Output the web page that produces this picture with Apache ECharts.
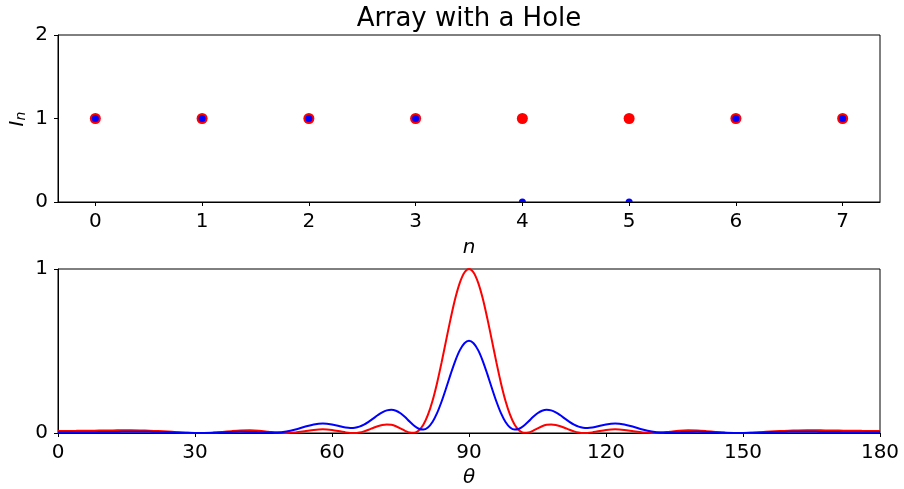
<!DOCTYPE html>
<html>
<head>
<meta charset="utf-8">
<script src="https://cdn.jsdelivr.net/npm/echarts@6/dist/echarts.min.js"></script>
<style>
html, body { margin: 0; padding: 0; background: #fff; }
#chart { width: 904px; height: 489px; }
</style>
</head>
<body>
<div id="chart"></div>
<script>
// Element currents of an 8-element linear array
const elementIndex = [0, 1, 2, 3, 4, 5, 6, 7];
const uniformCurrents = [1, 1, 1, 1, 1, 1, 1, 1];
const holeCurrents = [1, 1, 1, 1, 0, 0, 1, 1];
const elementTicks = [0, 1, 2, 3, 4, 5, 6, 7];

// Normalised power pattern versus angle (degrees)
const thetaDeg = [
  0, 2, 4, 6, 8, 10, 12, 14, 16, 18, 20, 22, 24, 26, 28, 30, 32, 34, 36, 38,
  40, 42, 44, 46, 48, 50, 52, 54, 56, 58, 60,
  62, 63, 64, 65, 66, 67, 68, 69, 70, 71, 72, 73, 74, 75, 76, 77, 78, 79, 80,
  81, 82, 83, 84, 85, 86, 87, 88, 89, 90,
  91, 92, 93, 94, 95, 96, 97, 98, 99, 100, 101, 102, 103, 104, 105, 106, 107,
  108, 109, 110, 111, 112, 113, 114, 115, 116, 117, 118,
  120, 122, 124, 126, 128, 130, 132, 134, 136, 138, 140, 142, 144, 146, 148,
  150, 152, 154, 156, 158, 160, 162, 164, 166, 168, 170, 172, 174, 176, 178, 180
];
const uniformPattern = [
  0.0126, 0.0127, 0.0130, 0.0136, 0.0143, 0.0151, 0.0158, 0.0162, 0.0162, 0.0155,
  0.0140, 0.0116, 0.0086, 0.0052, 0.0021, 0.0003, 0.0003, 0.0025, 0.0066, 0.0114,
  0.0152, 0.0162, 0.0135, 0.0081, 0.0025, 0.0000, 0.0029, 0.0105, 0.0190, 0.0228,
  0.0186,
  0.0087, 0.0038, 0.0006, 0.0002, 0.0034, 0.0101, 0.0197, 0.0308, 0.0414, 0.0493,
  0.0525, 0.0497, 0.0409, 0.0277, 0.0132, 0.0024, 0.0010, 0.0152, 0.0503, 0.1099,
  0.1952, 0.3039, 0.4304, 0.5662, 0.7002, 0.8212, 0.9167, 0.9785, 1.0000,
  0.9785, 0.9167, 0.8212, 0.7002, 0.5662, 0.4304, 0.3039, 0.1952, 0.1099, 0.0503,
  0.0152, 0.0010, 0.0024, 0.0132, 0.0277, 0.0409, 0.0497, 0.0525, 0.0493, 0.0414,
  0.0308, 0.0197, 0.0101, 0.0034, 0.0002, 0.0006, 0.0038, 0.0087,
  0.0186, 0.0228, 0.0190, 0.0105, 0.0029, 0.0000, 0.0025, 0.0081, 0.0135, 0.0162,
  0.0152, 0.0114, 0.0066, 0.0025, 0.0003, 0.0003, 0.0021, 0.0052, 0.0086, 0.0116,
  0.0140, 0.0155, 0.0162, 0.0162, 0.0158, 0.0151, 0.0143, 0.0136, 0.0130, 0.0127,
  0.0126
];
const holePattern = [
  0.0042, 0.0042, 0.0044, 0.0048, 0.0052, 0.0057, 0.0063, 0.0069, 0.0072, 0.0073,
  0.0069, 0.0060, 0.0045, 0.0028, 0.0012, 0.0001, 0.0002, 0.0014, 0.0036, 0.0059,
  0.0072, 0.0068, 0.0047, 0.0026, 0.0031, 0.0092, 0.0216, 0.0379, 0.0523, 0.0581,
  0.0525,
  0.0398, 0.0340, 0.0311, 0.0323, 0.0388, 0.0509, 0.0678, 0.0877, 0.1081, 0.1260,
  0.1381, 0.1418, 0.1359, 0.1202, 0.0970, 0.0699, 0.0443, 0.0261, 0.0210, 0.0338,
  0.0672, 0.1209, 0.1920, 0.2744, 0.3602, 0.4404, 0.5051, 0.5476, 0.5625,
  0.5476, 0.5051, 0.4404, 0.3602, 0.2744, 0.1920, 0.1209, 0.0672, 0.0338, 0.0210,
  0.0261, 0.0443, 0.0699, 0.0970, 0.1202, 0.1359, 0.1418, 0.1381, 0.1260, 0.1081,
  0.0877, 0.0678, 0.0509, 0.0388, 0.0323, 0.0311, 0.0340, 0.0398,
  0.0525, 0.0581, 0.0523, 0.0379, 0.0216, 0.0092, 0.0031, 0.0026, 0.0047, 0.0068,
  0.0072, 0.0059, 0.0036, 0.0014, 0.0002, 0.0001, 0.0012, 0.0028, 0.0045, 0.0060,
  0.0069, 0.0073, 0.0072, 0.0069, 0.0063, 0.0057, 0.0052, 0.0048, 0.0044, 0.0042,
  0.0042
];

const FONT = '"DejaVu Sans", sans-serif';
const chart = echarts.init(document.getElementById('chart'), null, { renderer: 'canvas' });

const zip = (xs, ys) => xs.map((x, i) => [x, ys[i]]);

// A zero-current element sits on the axis: only its upper half is visible
const holeHalfDisc = 'path://M0,10 A10,10 0 0 1 20,10 Z';
const holeData = elementIndex.map((n, i) => {
  const v = holeCurrents[i];
  if (v === 0) {
    return { value: [n, v], symbol: holeHalfDisc, symbolSize: [7, 3.5], symbolOffset: [0, -1.75] };
  }
  return [n, v];
});

const tickStyle = { show: true, inside: false, length: 4, lineStyle: { color: '#000', width: 1 } };
const axisLineStyle = { show: true, onZero: false, lineStyle: { color: '#000', width: 1 } };
const xLabel = { color: '#000', fontSize: 20, fontFamily: FONT, margin: 10 };
const yLabel = { color: '#000', fontSize: 20, fontFamily: FONT, margin: 10 };
const nameStyle = { color: '#000', fontSize: 20, fontFamily: FONT, fontStyle: 'italic' };

const option = {
  animation: false,
  backgroundColor: '#fff',
  grid: [
    { left: 58, right: 24, top: 35, height: 167, show: true, borderColor: '#000', borderWidth: 1 },
    { left: 58, right: 24, top: 269, height: 167, show: true, borderColor: '#000', borderWidth: 1 }
  ],
  xAxis: [
    {
      gridIndex: 0, type: 'value', min: -0.35, max: 7.35,
      axisLine: axisLineStyle,
      axisTick: Object.assign({}, tickStyle, { customValues: elementTicks }),
      axisLabel: Object.assign({}, xLabel, { customValues: elementTicks }),
      splitLine: { show: false },
      name: 'n', nameLocation: 'middle', nameGap: 36, nameTextStyle: nameStyle
    },
    {
      gridIndex: 1, type: 'value', min: 0, max: 180, interval: 30,
      axisLine: axisLineStyle, axisTick: tickStyle, axisLabel: xLabel,
      splitLine: { show: false },
      name: 'θ', nameLocation: 'middle', nameGap: 35, nameTextStyle: nameStyle
    }
  ],
  yAxis: [
    {
      gridIndex: 0, type: 'value', min: 0, max: 2, interval: 1,
      axisLine: axisLineStyle, axisTick: tickStyle, axisLabel: yLabel,
      splitLine: { show: false }
    },
    {
      gridIndex: 1, type: 'value', min: 0, max: 1, interval: 1,
      axisLine: axisLineStyle, axisTick: tickStyle, axisLabel: yLabel,
      splitLine: { show: false }
    }
  ],
  graphic: [
    {
      type: 'text', x: 469, y: 19,
      style: { text: 'Array with a Hole', fill: '#000', font: '26px ' + FONT, textAlign: 'center', textVerticalAlign: 'middle' }
    },
    {
      type: 'text', x: 18, y: 119, rotation: Math.PI / 2,
      style: {
        text: '{i|I}{s|n}', textAlign: 'center', textVerticalAlign: 'middle',
        rich: {
          i: { fontSize: 20, fontFamily: FONT, fontStyle: 'italic', fill: '#000' },
          s: { fontSize: 14, fontFamily: FONT, fontStyle: 'italic', fill: '#000', verticalAlign: 'bottom', padding: [6, 0, 0, 0] }
        }
      }
    }
  ],
  series: [
    {
      type: 'scatter', xAxisIndex: 0, yAxisIndex: 0, clip: false,
      data: zip(elementIndex, uniformCurrents),
      symbol: 'circle', symbolSize: 11,
      itemStyle: { color: '#ff0000', opacity: 1 }, z: 3
    },
    {
      type: 'scatter', xAxisIndex: 0, yAxisIndex: 0, clip: false,
      data: holeData,
      symbol: 'circle', symbolSize: 7,
      itemStyle: { color: '#0000ff', opacity: 1 }, z: 4
    },
    {
      type: 'line', xAxisIndex: 1, yAxisIndex: 1,
      data: zip(thetaDeg, uniformPattern),
      showSymbol: false, smooth: 0.3,
      lineStyle: { color: '#ff0000', width: 2 }, z: 3
    },
    {
      type: 'line', xAxisIndex: 1, yAxisIndex: 1,
      data: zip(thetaDeg, holePattern),
      showSymbol: false, smooth: 0.3,
      lineStyle: { color: '#0000ff', width: 2 }, z: 4
    }
  ]
};

chart.setOption(option);
</script>
</body>
</html>
